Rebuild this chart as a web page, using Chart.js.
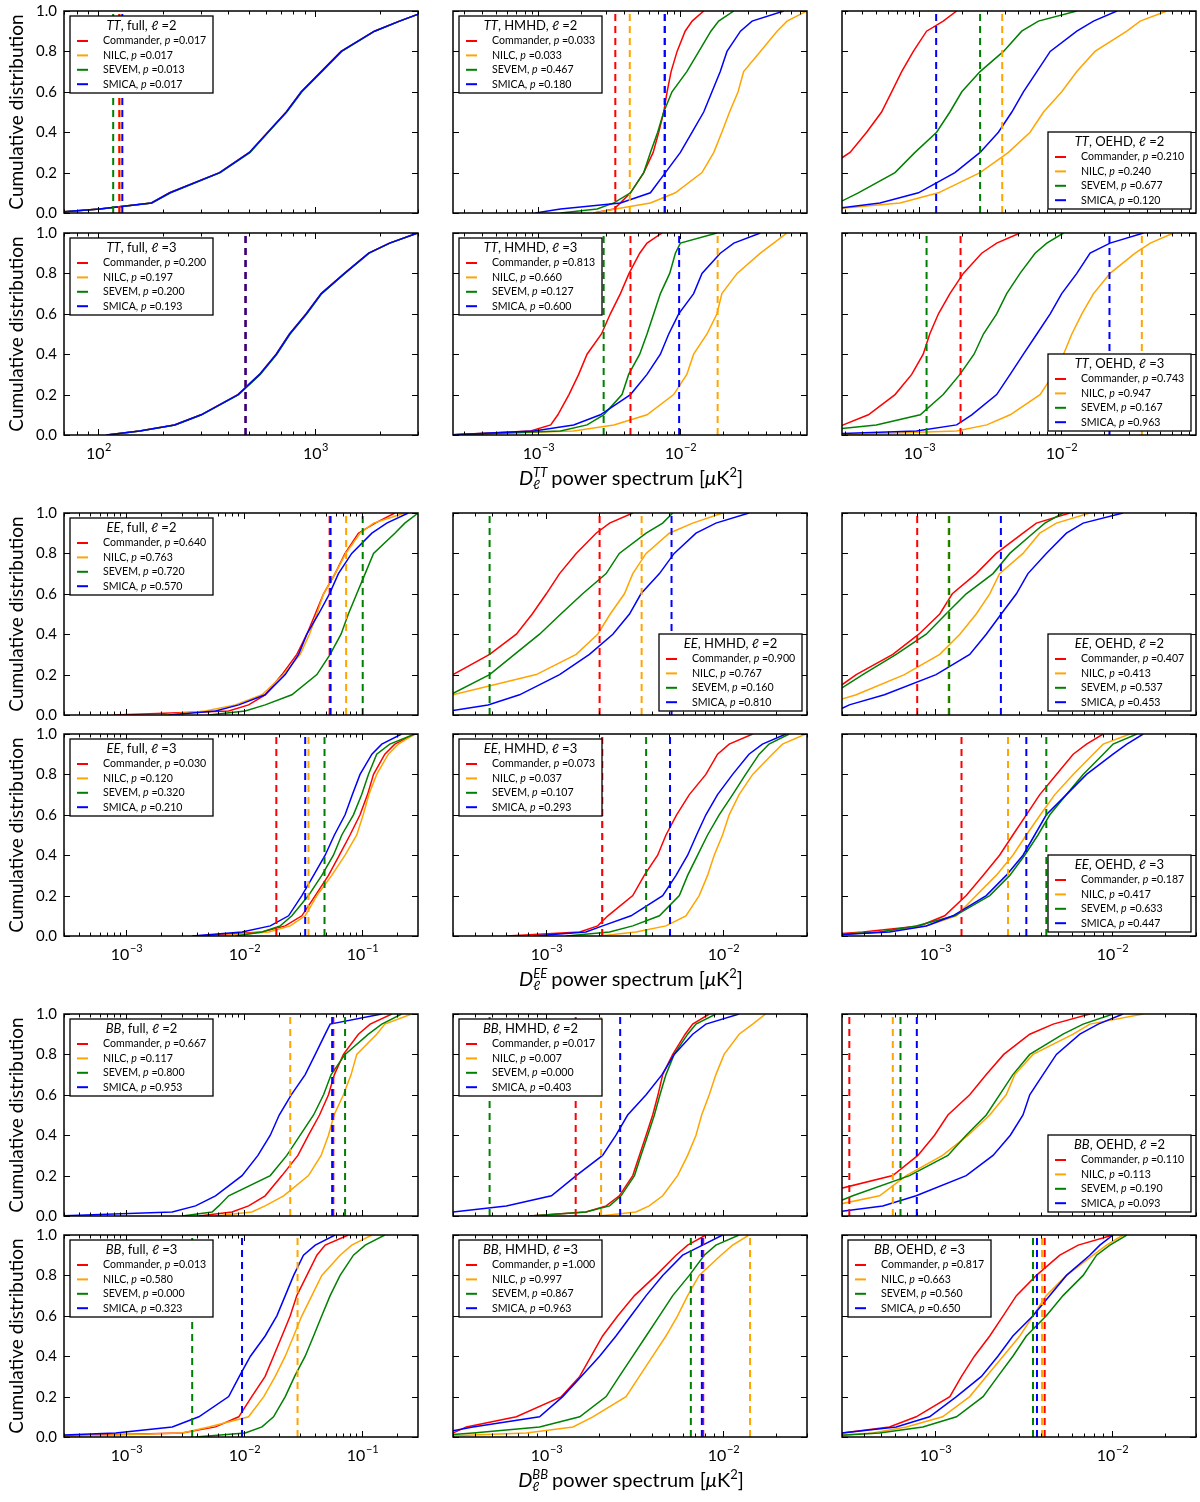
<!DOCTYPE html>
<html>
<head>
<meta charset="utf-8">
<script src="https://cdn.jsdelivr.net/npm/chart.js@4.4.1/dist/chart.umd.min.js"></script>
<style>
  body { margin: 0; width: 1200px; height: 1502px; overflow: hidden; background: #fff; position: relative; font-family: Lato, sans-serif; }
  canvas { position: absolute; }
  .ylab { position: absolute; transform: translate(-50%, -50%) rotate(-90deg); font-size: 19px; white-space: nowrap; }
  .xlab { position: absolute; transform: translate(-50%, -50%); font-size: 20px; white-space: nowrap; }
  .ss { display: inline-flex; flex-direction: column; font-size: 13px; line-height: 12px; vertical-align: middle; margin-right: 4px; position: relative; top: -2px; }
  .xlab sup { font-size: 13px; }
</style>
</head>
<body>
<script>
const levels = [0, 0.02, 0.05, 0.1, 0.2, 0.3, 0.4, 0.5, 0.6, 0.7, 0.8, 0.9, 0.95, 1];
const maps = ['Commander', 'NILC', 'SEVEM', 'SMICA'];
const mapColors = ['#ff0000', '#ffa500', '#008000', '#0000ff'];

// --- TT ---  (rows: Commander, NILC, SEVEM, SMICA)
const ttFull2 = [
  [60, 102, 177, 215, 365, 501, 609, 741, 869, 1074, 1327, 1888, 2464, 3300],
  [60, 102, 177, 215, 365, 501, 609, 741, 869, 1074, 1327, 1888, 2464, 3300],
  [60, 103, 178, 217, 368, 505, 612, 745, 875, 1080, 1335, 1895, 2470, 3300],
  [60, 102, 177, 215, 365, 501, 609, 741, 869, 1074, 1327, 1888, 2464, 3300]
];
const ttFull2Cut = [126, 126, 118, 130];
const ttFull2P = [0.017, 0.017, 0.013, 0.017];

const ttFull3 = [
  [110, 156, 226, 300, 444, 558, 666, 767, 916, 1074, 1374, 1778, 2218, 2990],
  [110, 156, 226, 300, 444, 558, 666, 767, 916, 1074, 1374, 1778, 2218, 2990],
  [110, 157, 228, 302, 447, 562, 670, 772, 922, 1080, 1380, 1785, 2225, 2990],
  [110, 156, 226, 300, 444, 558, 666, 767, 916, 1074, 1374, 1778, 2218, 2990]
];
const ttFull3Cut = [481, 481, 481, 481];
const ttFull3P = [0.200, 0.197, 0.200, 0.193];

const ttHm2 = [
  [2.45e-3, 3.40e-3, 3.78e-3, 4.45e-3, 5.52e-3, 6.43e-3, 7.04e-3, 7.63e-3, 8.06e-3, 8.60e-3, 9.48e-3, 1.08e-2, 1.21e-2, 1.46e-2],
  [2.45e-3, 3.48e-3, 6.15e-3, 9.22e-3, 1.42e-2, 1.72e-2, 1.96e-2, 2.22e-2, 2.55e-2, 2.79e-2, 3.66e-2, 4.80e-2, 5.64e-2, 7.80e-2],
  [1.43e-3, 2.59e-3, 3.40e-3, 4.45e-3, 5.52e-3, 6.15e-3, 6.92e-3, 7.63e-3, 8.73e-3, 1.11e-2, 1.35e-2, 1.64e-2, 1.86e-2, 2.38e-2],
  [9.5e-4, 1.43e-3, 3.78e-3, 6.15e-3, 7.84e-3, 1.0e-2, 1.21e-2, 1.46e-2, 1.67e-2, 1.91e-2, 2.13e-2, 2.65e-2, 3.20e-2, 5.35e-2]
];
const ttHm2Cut = [3.48e-3, 4.40e-3, 7.76e-3, 7.76e-3];
const ttHm2P = [0.033, 0.033, 0.467, 0.180];

const ttHm3 = [
  [2.4e-4, 8.8e-4, 1.22e-3, 1.37e-3, 1.64e-3, 1.92e-3, 2.20e-3, 2.78e-3, 3.21e-3, 3.78e-3, 4.35e-3, 5.17e-3, 5.82e-3, 7.43e-3],
  [2.2e-4, 1.77e-3, 3.40e-3, 5.82e-3, 8.97e-3, 1.11e-2, 1.24e-2, 1.54e-2, 1.81e-2, 1.96e-2, 2.51e-2, 3.66e-2, 4.54e-2, 5.64e-2],
  [2.3e-4, 1.43e-3, 2.20e-3, 2.88e-3, 3.88e-3, 4.32e-3, 5.17e-3, 5.82e-3, 6.49e-3, 7.23e-3, 8.41e-3, 9.22e-3, 1.0e-2, 1.81e-2],
  [2.3e-4, 9.3e-4, 1.77e-3, 2.73e-3, 4.45e-3, 5.82e-3, 7.23e-3, 8.28e-3, 9.73e-3, 1.24e-2, 1.42e-2, 1.91e-2, 2.38e-2, 3.66e-2]
];
const ttHm3Cut = [4.45e-3, 1.83e-2, 2.88e-3, 9.8e-3];
const ttHm3P = [0.813, 0.660, 0.127, 0.600];

const ttOe2 = [
  [1.0e-4, 1.1e-4, 1.25e-4, 1.5e-4, 2.0e-4, 3.27e-4, 4.28e-4, 5.45e-4, 6.42e-4, 7.55e-4, 9.12e-4, 1.13e-3, 1.48e-3, 1.84e-3],
  [1.5e-4, 2.5e-4, 7.35e-4, 1.37e-3, 2.69e-3, 4.26e-3, 6.05e-3, 7.52e-3, 1.01e-2, 1.29e-2, 1.73e-2, 2.90e-2, 3.60e-2, 5.55e-2],
  [2.0e-4, 2.3e-4, 2.7e-4, 3.74e-4, 6.78e-4, 9.37e-4, 1.33e-3, 1.65e-3, 2.0e-3, 2.69e-3, 3.93e-3, 5.28e-3, 6.92e-3, 1.29e-2],
  [1.5e-4, 2.5e-4, 5.31e-4, 9.9e-4, 1.79e-3, 2.69e-3, 3.62e-3, 4.50e-3, 5.43e-3, 6.75e-3, 8.38e-3, 1.29e-2, 1.69e-2, 2.47e-2]
];
const ttOe2Cut = [2.0e-4, 3.85e-3, 2.69e-3, 1.32e-3];
const ttOe2P = [0.210, 0.240, 0.677, 0.120];

const ttOe3 = [
  [2.0e-4, 2.4e-4, 2.93e-4, 4.40e-4, 6.78e-4, 8.88e-4, 1.07e-3, 1.19e-3, 1.37e-3, 1.65e-3, 2.05e-3, 2.76e-3, 3.52e-3, 5.14e-3],
  [2.5e-4, 1.84e-3, 3.0e-3, 4.38e-3, 7.11e-3, 8.83e-3, 1.04e-2, 1.19e-2, 1.40e-2, 1.69e-2, 2.21e-2, 3.32e-2, 4.24e-2, 6.18e-2],
  [1.5e-4, 2.0e-4, 5.0e-4, 1.02e-3, 1.48e-3, 1.94e-3, 2.44e-3, 2.84e-3, 3.52e-3, 4.14e-3, 5.14e-3, 6.56e-3, 7.93e-3, 1.04e-2],
  [1.5e-4, 9.6e-4, 1.84e-3, 2.35e-3, 3.52e-3, 4.38e-3, 5.43e-3, 6.75e-3, 8.38e-3, 1.01e-2, 1.29e-2, 1.60e-2, 2.21e-2, 3.80e-2]
];
const ttOe3Cut = [1.96e-3, 3.70e-2, 1.13e-3, 2.19e-2];
const ttOe3P = [0.743, 0.947, 0.167, 0.963];

// --- EE ---
const eeFull2 = [
  [7.96e-4, 7.46e-3, 1.10e-2, 1.52e-2, 2.11e-2, 2.82e-2, 3.43e-2, 4.04e-2, 4.75e-2, 5.95e-2, 7.23e-2, 9.37e-2, 0.130, 0.191],
  [2.04e-3, 4.74e-3, 8.51e-3, 1.43e-2, 2.18e-2, 3.01e-2, 3.61e-2, 4.17e-2, 4.75e-2, 5.95e-2, 7.33e-2, 9.68e-2, 0.126, 0.232],
  [5.06e-3, 1.03e-2, 1.52e-2, 2.56e-2, 4.17e-2, 5.40e-2, 6.68e-2, 7.71e-2, 9.08e-2, 0.107, 0.126, 0.191, 0.232, 0.301],
  [2.32e-3, 5.77e-3, 9.08e-3, 1.52e-2, 2.25e-2, 2.92e-2, 3.43e-2, 4.31e-2, 5.33e-2, 6.35e-2, 8.23e-2, 0.122, 0.163, 0.248]
];
const eeFull2Cut = [5.35e-2, 7.38e-2, 0.102, 5.45e-2];
const eeFull2P = [0.640, 0.763, 0.720, 0.570];

const eeFull3 = [
  [3.91e-3, 1.43e-2, 2.25e-2, 3.11e-2, 4.04e-2, 5.23e-2, 6.47e-2, 7.96e-2, 9.68e-2, 0.112, 0.126, 0.157, 0.191, 0.282],
  [5.77e-3, 1.63e-2, 2.48e-2, 3.32e-2, 4.17e-2, 5.57e-2, 7.23e-2, 9.08e-2, 0.103, 0.115, 0.134, 0.168, 0.204, 0.282],
  [8.51e-3, 1.43e-2, 2.04e-2, 2.56e-2, 3.54e-2, 4.59e-2, 5.76e-2, 6.78e-2, 8.51e-2, 0.100, 0.114, 0.134, 0.173, 0.282],
  [3.66e-3, 9.68e-3, 1.68e-2, 2.40e-2, 3.11e-2, 3.91e-2, 4.90e-2, 5.87e-2, 7.23e-2, 8.34e-2, 9.68e-2, 0.122, 0.148, 0.218]
];
const eeFull3Cut = [1.89e-2, 3.54e-2, 4.84e-2, 3.32e-2];
const eeFull3P = [0.030, 0.120, 0.320, 0.210];

const eeHm2 = [
  [1.5e-4, 1.7e-4, 1.9e-4, 2.2e-4, 3.0e-4, 4.83e-4, 6.84e-4, 8.41e-4, 1.01e-3, 1.20e-3, 1.49e-3, 1.93e-3, 2.30e-3, 3.11e-3],
  [1.8e-4, 2.0e-4, 2.3e-4, 3.0e-4, 8.86e-4, 1.49e-3, 1.97e-3, 2.32e-3, 2.79e-3, 3.11e-3, 3.70e-3, 5.0e-3, 6.78e-3, 1.0e-2],
  [2.0e-4, 2.2e-4, 2.5e-4, 2.9e-4, 4.83e-4, 6.68e-4, 9.25e-4, 1.22e-3, 1.62e-3, 2.20e-3, 2.61e-3, 3.70e-3, 4.59e-3, 5.23e-3],
  [2.0e-4, 2.9e-4, 4.73e-4, 7.13e-4, 1.20e-3, 1.77e-3, 2.40e-3, 2.98e-3, 3.46e-3, 4.40e-3, 5.33e-3, 7.08e-3, 9.17e-3, 1.41e-2]
];
const eeHm2Cut = [2.02e-3, 3.49e-3, 4.83e-4, 5.15e-3];
const eeHm2P = [0.900, 0.767, 0.160, 0.810];

const eeHm3 = [
  [6.0e-4, 1.56e-3, 1.97e-3, 2.25e-3, 3.11e-3, 3.61e-3, 4.30e-3, 4.79e-3, 5.50e-3, 6.49e-3, 8.05e-3, 9.37e-3, 1.09e-2, 1.48e-2],
  [2.02e-3, 3.24e-3, 4.79e-3, 6.21e-3, 7.38e-3, 8.23e-3, 8.97e-3, 1.0e-2, 1.09e-2, 1.24e-2, 1.48e-2, 1.91e-2, 2.18e-2, 2.95e-2],
  [1.31e-3, 2.30e-3, 3.11e-3, 4.40e-3, 5.70e-3, 6.35e-3, 7.23e-3, 8.23e-3, 9.57e-3, 1.14e-2, 1.35e-2, 1.61e-2, 1.83e-2, 2.38e-2],
  [8.48e-4, 1.69e-3, 2.10e-3, 3.04e-3, 4.59e-3, 5.46e-3, 6.35e-3, 7.13e-3, 8.05e-3, 9.37e-3, 1.14e-2, 1.41e-2, 1.68e-2, 2.28e-2]
];
const eeHm3Cut = [2.09e-3, 2.09e-3, 3.70e-3, 5.05e-3];
const eeHm3P = [0.073, 0.037, 0.107, 0.293];

const eeOe2 = [
  [1.4e-4, 1.7e-4, 2.0e-4, 2.5e-4, 3.61e-4, 5.81e-4, 8.15e-4, 1.07e-3, 1.26e-3, 1.72e-3, 2.23e-3, 3.16e-3, 3.76e-3, 5.81e-3],
  [1.6e-4, 1.9e-4, 2.3e-4, 3.61e-4, 6.76e-4, 1.07e-3, 1.39e-3, 1.72e-3, 2.05e-3, 2.33e-3, 3.16e-3, 3.93e-3, 4.88e-3, 7.53e-3],
  [1.5e-4, 1.8e-4, 2.1e-4, 2.6e-4, 3.93e-4, 6.07e-4, 8.97e-4, 1.16e-3, 1.51e-3, 2.14e-3, 2.66e-3, 3.60e-3, 4.20e-3, 5.32e-3],
  [2.0e-4, 2.8e-4, 3.30e-4, 5.21e-4, 1.02e-3, 1.58e-3, 1.96e-3, 2.38e-3, 2.90e-3, 3.37e-3, 4.28e-3, 5.56e-3, 6.91e-3, 1.16e-2]
];
const eeOe2Cut = [7.98e-4, 1.20e-3, 1.21e-3, 2.37e-3];
const eeOe2P = [0.407, 0.413, 0.537, 0.453];

const eeOe3 = [
  [2.0e-4, 3.93e-4, 8.23e-4, 1.14e-3, 1.51e-3, 1.88e-3, 2.33e-3, 2.77e-3, 3.30e-3, 3.93e-3, 4.88e-3, 6.07e-3, 7.22e-3, 8.97e-3],
  [2.0e-4, 4.89e-4, 8.97e-4, 1.33e-3, 1.72e-3, 2.23e-3, 2.77e-3, 3.30e-3, 3.96e-3, 4.78e-3, 6.07e-3, 7.87e-3, 8.97e-3, 1.27e-2],
  [2.0e-4, 4.89e-4, 7.87e-4, 1.30e-3, 2.05e-3, 2.66e-3, 3.23e-3, 3.84e-3, 4.48e-3, 5.56e-3, 6.91e-3, 8.97e-3, 1.02e-2, 1.39e-2],
  [2.0e-4, 5.56e-4, 8.97e-4, 1.27e-3, 1.96e-3, 2.54e-3, 3.16e-3, 3.68e-3, 4.28e-3, 5.56e-3, 7.22e-3, 1.02e-2, 1.22e-2, 1.51e-2]
];
const eeOe3Cut = [1.42e-3, 2.60e-3, 4.28e-3, 3.30e-3];
const eeOe3P = [0.187, 0.417, 0.633, 0.447];

// --- BB ---
const bbFull2 = [
  [4.17e-3, 7.96e-3, 1.10e-2, 1.52e-2, 2.11e-2, 2.88e-2, 3.54e-2, 4.39e-2, 5.23e-2, 5.87e-2, 7.0e-2, 9.37e-2, 0.118, 0.180],
  [5.77e-3, 1.17e-2, 1.52e-2, 2.18e-2, 3.54e-2, 4.53e-2, 5.23e-2, 5.83e-2, 7.0e-2, 8.13e-2, 9.08e-2, 0.134, 0.157, 0.265],
  [3.01e-3, 5.40e-3, 6.15e-3, 7.46e-3, 1.68e-2, 2.32e-2, 3.01e-2, 3.91e-2, 4.75e-2, 5.51e-2, 7.23e-2, 0.114, 0.148, 0.218],
  [2.5e-4, 2.48e-3, 3.91e-3, 5.77e-3, 9.68e-3, 1.32e-2, 1.68e-2, 2.0e-2, 2.53e-2, 3.32e-2, 4.04e-2, 4.90e-2, 5.40e-2, 0.148]
];
const bbFull2Cut = [5.75e-2, 2.48e-2, 7.23e-2, 5.62e-2];
const bbFull2P = [0.667, 0.117, 0.800, 0.953];

const bbFull3 = [
  [1.0e-4, 3.0e-3, 5.77e-3, 9.08e-3, 1.17e-2, 1.52e-2, 1.79e-2, 2.11e-2, 2.48e-2, 2.82e-2, 3.43e-2, 4.17e-2, 4.90e-2, 7.71e-2],
  [2.0e-4, 3.01e-3, 5.06e-3, 1.10e-2, 1.48e-2, 1.85e-2, 2.25e-2, 2.65e-2, 3.11e-2, 3.78e-2, 4.59e-2, 6.56e-2, 8.23e-2, 0.122],
  [3.91e-3, 1.03e-2, 1.43e-2, 1.79e-2, 2.25e-2, 2.70e-2, 3.32e-2, 3.91e-2, 4.59e-2, 5.40e-2, 6.56e-2, 8.51e-2, 0.107, 0.157],
  [1.0e-4, 8.23e-4, 2.48e-3, 4.17e-3, 7.46e-3, 9.18e-3, 1.14e-2, 1.52e-2, 1.91e-2, 2.25e-2, 2.65e-2, 3.21e-2, 4.04e-2, 5.95e-2]
];
const bbFull3Cut = [2.0e-4, 2.86e-2, 3.66e-3, 9.68e-3];
const bbFull3P = [0.013, 0.580, 0.000, 0.323];

const bbHm2 = [
  [8.13e-4, 1.69e-3, 2.20e-3, 2.61e-3, 3.11e-3, 3.39e-3, 3.70e-3, 4.03e-3, 4.32e-3, 4.59e-3, 5.23e-3, 6.15e-3, 6.78e-3, 8.41e-3],
  [2.02e-3, 3.24e-3, 3.85e-3, 4.59e-3, 5.57e-3, 6.35e-3, 7.08e-3, 7.62e-3, 8.41e-3, 9.17e-3, 1.02e-2, 1.24e-2, 1.48e-2, 1.75e-2],
  [8.13e-4, 1.69e-3, 2.30e-3, 2.67e-3, 3.18e-3, 3.46e-3, 3.78e-3, 4.12e-3, 4.43e-3, 4.79e-3, 5.33e-3, 6.35e-3, 7.08e-3, 9.17e-3],
  [2.0e-4, 3.0e-4, 6.0e-4, 1.08e-3, 1.49e-3, 2.10e-3, 2.50e-3, 2.91e-3, 3.70e-3, 4.55e-3, 5.33e-3, 6.78e-3, 8.05e-3, 1.24e-2]
];
const bbHm2Cut = [1.48e-3, 2.06e-3, 4.83e-4, 2.64e-3];
const bbHm2P = [0.017, 0.007, 0.000, 0.403];

const bbHm3 = [
  [2.0e-4, 3.0e-4, 3.57e-4, 6.84e-4, 1.23e-3, 1.56e-3, 1.81e-3, 2.10e-3, 2.56e-3, 3.18e-3, 4.21e-3, 5.46e-3, 6.35e-3, 8.05e-3],
  [2.0e-4, 7.78e-4, 1.43e-3, 1.85e-3, 2.85e-3, 3.39e-3, 4.03e-3, 4.79e-3, 5.57e-3, 6.35e-3, 7.38e-3, 9.79e-3, 1.14e-2, 1.41e-2],
  [2.0e-4, 3.89e-4, 9.25e-4, 1.56e-3, 2.20e-3, 2.61e-3, 3.11e-3, 3.70e-3, 4.40e-3, 5.23e-3, 6.49e-3, 7.88e-3, 9.17e-3, 1.24e-2],
  [2.0e-4, 2.6e-4, 3.89e-4, 9.25e-4, 1.25e-3, 1.59e-3, 2.02e-3, 2.50e-3, 3.04e-3, 3.70e-3, 4.59e-3, 5.95e-3, 7.71e-3, 1.0e-2]
];
const bbHm3Cut = [7.78e-3, 1.43e-2, 6.62e-3, 7.64e-3];
const bbHm3P = [1.000, 0.997, 0.867, 0.963];

const bbOe2 = [
  [1.3e-4, 1.5e-4, 1.7e-4, 2.0e-4, 5.81e-4, 8.05e-4, 1.0e-3, 1.19e-3, 1.58e-3, 1.96e-3, 2.46e-3, 3.45e-3, 4.68e-3, 7.54e-3],
  [1.8e-4, 2.1e-4, 2.6e-4, 4.89e-4, 6.92e-4, 1.11e-3, 1.55e-3, 2.05e-3, 2.54e-3, 2.84e-3, 3.60e-3, 6.07e-3, 7.54e-3, 1.51e-2],
  [1.8e-4, 2.1e-4, 2.5e-4, 3.45e-4, 7.22e-4, 1.19e-3, 1.51e-3, 1.96e-3, 2.33e-3, 2.77e-3, 3.45e-3, 5.32e-3, 6.91e-3, 1.02e-2],
  [2.0e-4, 2.8e-4, 5.1e-4, 7.87e-4, 1.51e-3, 2.14e-3, 2.68e-3, 3.16e-3, 3.45e-3, 4.10e-3, 4.88e-3, 6.62e-3, 8.41e-3, 1.16e-2]
];
const bbOe2Cut = [3.30e-4, 5.81e-4, 6.42e-4, 7.94e-4];
const bbOe2P = [0.110, 0.113, 0.190, 0.093];

const bbOe3 = [
  [2.0e-4, 3.0e-4, 5.56e-4, 7.87e-4, 1.22e-3, 1.42e-3, 1.68e-3, 2.05e-3, 2.44e-3, 2.90e-3, 3.76e-3, 5.10e-3, 6.48e-3, 1.02e-2],
  [2.0e-4, 4.48e-4, 6.92e-4, 1.11e-3, 1.58e-3, 1.96e-3, 2.44e-3, 3.03e-3, 3.60e-3, 4.28e-3, 5.56e-3, 7.87e-3, 9.37e-3, 1.16e-2],
  [2.0e-4, 4.89e-4, 8.59e-4, 1.33e-3, 1.88e-3, 2.28e-3, 2.77e-3, 3.30e-3, 4.28e-3, 5.32e-3, 6.91e-3, 8.23e-3, 9.79e-3, 1.22e-2],
  [2.0e-4, 3.0e-4, 6.07e-4, 9.37e-4, 1.33e-3, 1.84e-3, 2.28e-3, 2.77e-3, 3.60e-3, 4.48e-3, 5.56e-3, 7.53e-3, 8.59e-3, 1.02e-2]
];
const bbOe3Cut = [4.19e-3, 4.05e-3, 3.60e-3, 3.79e-3];
const bbOe3P = [0.817, 0.663, 0.560, 0.650];

// axis limits (per spectrum, per column)
const ttRanges = [[70, 3000], [2.5e-4, 7.8e-2], [2.87e-4, 8.9e-2]];
const polRanges = [[3e-4, 0.3], [3e-4, 3e-2], [3e-4, 3e-2]];

const panels = [
  { row: 0, col: 0, spec: 'TT', mask: 'full', ell: 2, q: ttFull2, cut: ttFull2Cut, p: ttFull2P, leg: 'ul' },
  { row: 0, col: 1, spec: 'TT', mask: 'HMHD', ell: 2, q: ttHm2, cut: ttHm2Cut, p: ttHm2P, leg: 'ul' },
  { row: 0, col: 2, spec: 'TT', mask: 'OEHD', ell: 2, q: ttOe2, cut: ttOe2Cut, p: ttOe2P, leg: 'lr' },
  { row: 1, col: 0, spec: 'TT', mask: 'full', ell: 3, q: ttFull3, cut: ttFull3Cut, p: ttFull3P, leg: 'ul' },
  { row: 1, col: 1, spec: 'TT', mask: 'HMHD', ell: 3, q: ttHm3, cut: ttHm3Cut, p: ttHm3P, leg: 'ul' },
  { row: 1, col: 2, spec: 'TT', mask: 'OEHD', ell: 3, q: ttOe3, cut: ttOe3Cut, p: ttOe3P, leg: 'lr' },
  { row: 2, col: 0, spec: 'EE', mask: 'full', ell: 2, q: eeFull2, cut: eeFull2Cut, p: eeFull2P, leg: 'ul' },
  { row: 2, col: 1, spec: 'EE', mask: 'HMHD', ell: 2, q: eeHm2, cut: eeHm2Cut, p: eeHm2P, leg: 'lr' },
  { row: 2, col: 2, spec: 'EE', mask: 'OEHD', ell: 2, q: eeOe2, cut: eeOe2Cut, p: eeOe2P, leg: 'lr' },
  { row: 3, col: 0, spec: 'EE', mask: 'full', ell: 3, q: eeFull3, cut: eeFull3Cut, p: eeFull3P, leg: 'ul' },
  { row: 3, col: 1, spec: 'EE', mask: 'HMHD', ell: 3, q: eeHm3, cut: eeHm3Cut, p: eeHm3P, leg: 'ul' },
  { row: 3, col: 2, spec: 'EE', mask: 'OEHD', ell: 3, q: eeOe3, cut: eeOe3Cut, p: eeOe3P, leg: 'lr' },
  { row: 4, col: 0, spec: 'BB', mask: 'full', ell: 2, q: bbFull2, cut: bbFull2Cut, p: bbFull2P, leg: 'ul' },
  { row: 4, col: 1, spec: 'BB', mask: 'HMHD', ell: 2, q: bbHm2, cut: bbHm2Cut, p: bbHm2P, leg: 'ul' },
  { row: 4, col: 2, spec: 'BB', mask: 'OEHD', ell: 2, q: bbOe2, cut: bbOe2Cut, p: bbOe2P, leg: 'lr' },
  { row: 5, col: 0, spec: 'BB', mask: 'full', ell: 3, q: bbFull3, cut: bbFull3Cut, p: bbFull3P, leg: 'ul' },
  { row: 5, col: 1, spec: 'BB', mask: 'HMHD', ell: 3, q: bbHm3, cut: bbHm3Cut, p: bbHm3P, leg: 'ul' },
  { row: 5, col: 2, spec: 'BB', mask: 'OEHD', ell: 3, q: bbOe3, cut: bbOe3Cut, p: bbOe3P, leg: 'ul' }
];

// page layout (plot boxes in px)
const colX = [[64, 418], [453, 807], [842, 1196]];
const rowY = [[11, 213], [233, 435], [513, 715], [734, 936], [1014, 1216], [1235, 1437]];
const PAD = { left: 60, right: 4, top: 8, bottom: 32 };
const FONT = 'Lato, sans-serif';

function runsWidth(ctx, runs, size) {
  let w = 0;
  runs.forEach(([t, it]) => { ctx.font = (it ? 'italic ' : '') + size + 'px ' + FONT; w += ctx.measureText(t).width; });
  return w;
}
function drawRuns(ctx, runs, x, y, size, align) {
  let sx = align === 'center' ? x - runsWidth(ctx, runs, size) / 2 : x;
  ctx.textBaseline = 'middle';
  ctx.textAlign = 'left';
  runs.forEach(([t, it]) => {
    ctx.font = (it ? 'italic ' : '') + size + 'px ' + FONT;
    ctx.fillText(t, sx, y);
    sx += ctx.measureText(t).width;
  });
}

// frame, inward ticks, tick labels and the legend box
const panelDecor = {
  id: 'panelDecor',
  afterDatasetsDraw(chart, args, opts) {
    const ctx = chart.ctx, a = chart.chartArea;
    const xs = chart.scales.x, ys = chart.scales.y;
    const P = opts.panel;
    ctx.save();
    ctx.strokeStyle = '#000';
    ctx.fillStyle = '#000';
    ctx.lineWidth = 1;
    // x ticks, major and minor
    const lo = Math.floor(Math.log10(xs.min)), hi = Math.ceil(Math.log10(xs.max));
    const majors = [];
    for (let e = lo; e <= hi; e++) {
      for (let m = 1; m < 10; m++) {
        const v = m * Math.pow(10, e);
        if (v < xs.min || v > xs.max) continue;
        const px = Math.round(xs.getPixelForValue(v)) + 0.5;
        const len = m === 1 ? 6 : 3.5;
        ctx.beginPath();
        ctx.moveTo(px, a.bottom); ctx.lineTo(px, a.bottom - len);
        ctx.moveTo(px, a.top); ctx.lineTo(px, a.top + len);
        ctx.stroke();
        if (m === 1) majors.push([e, px]);
      }
    }
    // y ticks
    for (let k = 0; k <= 5; k++) {
      const py = Math.round(ys.getPixelForValue(k / 5)) + 0.5;
      ctx.beginPath();
      ctx.moveTo(a.left, py); ctx.lineTo(a.left + 6, py);
      ctx.moveTo(a.right, py); ctx.lineTo(a.right - 6, py);
      ctx.stroke();
      if (P.col === 0) {
        ctx.font = '15px ' + FONT;
        ctx.textAlign = 'right';
        ctx.textBaseline = 'middle';
        ctx.fillText((k / 5).toFixed(1), a.left - 7, py);
      }
    }
    // x tick labels (lower panel of each pair)
    if (P.row % 2 === 1) {
      majors.forEach(([e, px]) => {
        const sup = e < 0 ? '\u2212' + (-e) : String(e);
        ctx.font = '16px ' + FONT;
        const wb = ctx.measureText('10').width;
        ctx.font = '11px ' + FONT;
        const ws = ctx.measureText(sup).width;
        const x0 = px - (wb + ws) / 2;
        ctx.textAlign = 'left';
        ctx.textBaseline = 'alphabetic';
        ctx.font = '16px ' + FONT;
        ctx.fillText('10', x0, a.bottom + 24);
        ctx.font = '11px ' + FONT;
        ctx.fillText(sup, x0 + wb + 0.5, a.bottom + 16);
      });
    }
    // frame
    ctx.lineWidth = 1.5;
    ctx.strokeRect(a.left, a.top, a.right - a.left, a.bottom - a.top);
    // legend
    const lw = 143, lh = 77;
    const lx = P.leg === 'ul' ? a.left + 6 : a.right - 5 - lw;
    const ly = P.leg === 'ul' ? a.top + 5 : a.bottom - 4 - lh;
    ctx.fillStyle = '#fff';
    ctx.fillRect(lx, ly, lw, lh);
    ctx.lineWidth = 1.3;
    ctx.strokeRect(lx, ly, lw, lh);
    ctx.fillStyle = '#000';
    drawRuns(ctx, [[P.spec, true], [', ' + P.mask + ', \u2113 =' + P.ell, false]], lx + lw / 2, ly + 10, 13, 'center');
    maps.forEach((name, i) => {
      const yy = ly + 25 + i * 14.4;
      ctx.strokeStyle = mapColors[i];
      ctx.lineWidth = 2;
      ctx.beginPath();
      ctx.moveTo(lx + 7, yy); ctx.lineTo(lx + 18, yy);
      ctx.stroke();
      ctx.fillStyle = '#000';
      drawRuns(ctx, [[name + ', ', false], ['p', true], [' =' + P.p[i].toFixed(3), false]], lx + 33, yy, 10.6, 'left');
    });
    ctx.restore();
  }
};

panels.forEach(P => {
  const [L, R] = colX[P.col], [T, B] = rowY[P.row];
  const cv = document.createElement('canvas');
  cv.width = R - L + PAD.left + PAD.right;
  cv.height = B - T + PAD.top + PAD.bottom;
  cv.style.left = (L - PAD.left) + 'px';
  cv.style.top = (T - PAD.top) + 'px';
  document.body.appendChild(cv);
  const range = (P.spec === 'TT' ? ttRanges : polRanges)[P.col];

  const datasets = [];
  // cumulative distributions: Commander first (bottom) ... SMICA last (top)
  P.q.forEach((qs, i) => {
    datasets.push({
      data: levels.map((lev, k) => ({ x: qs[k], y: lev })),
      borderColor: mapColors[i], borderWidth: 1.5, pointRadius: 0, tension: 0, fill: false,
      order: 10 - i
    });
  });
  // observed values as dashed verticals, above the curves
  [1, 2, 0, 3].forEach((i, k) => {
    datasets.push({
      data: [{ x: P.cut[i], y: 0 }, { x: P.cut[i], y: 1 }],
      borderColor: mapColors[i], borderWidth: 2, borderDash: [7, 5], pointRadius: 0, fill: false,
      order: 4 - k
    });
  });

  new Chart(cv, {
    type: 'line',
    data: { datasets },
    options: {
      responsive: false,
      animation: false,
      events: [],
      layout: { padding: PAD },
      scales: {
        x: { type: 'logarithmic', min: range[0], max: range[1], display: false },
        y: { type: 'linear', min: 0, max: 1, display: false }
      },
      plugins: { legend: { display: false }, tooltip: { enabled: false }, panelDecor: { panel: P } }
    },
    plugins: [panelDecor]
  });
});

// axis titles
rowY.forEach(([T, B]) => {
  const d = document.createElement('div');
  d.className = 'ylab';
  d.style.left = '15px';
  d.style.top = ((T + B) / 2) + 'px';
  d.textContent = 'Cumulative distribution';
  document.body.appendChild(d);
});
[['TT', 478], ['EE', 979], ['BB', 1480]].forEach(([s, y]) => {
  const d = document.createElement('div');
  d.className = 'xlab';
  d.style.left = '631px';
  d.style.top = y + 'px';
  d.innerHTML = '<i>D</i><span class="ss"><i>' + s + '</i><span>\u2113</span></span>power spectrum [<i>\u03bc</i>K<sup>2</sup>]';
  document.body.appendChild(d);
});
</script>
</body>
</html>
